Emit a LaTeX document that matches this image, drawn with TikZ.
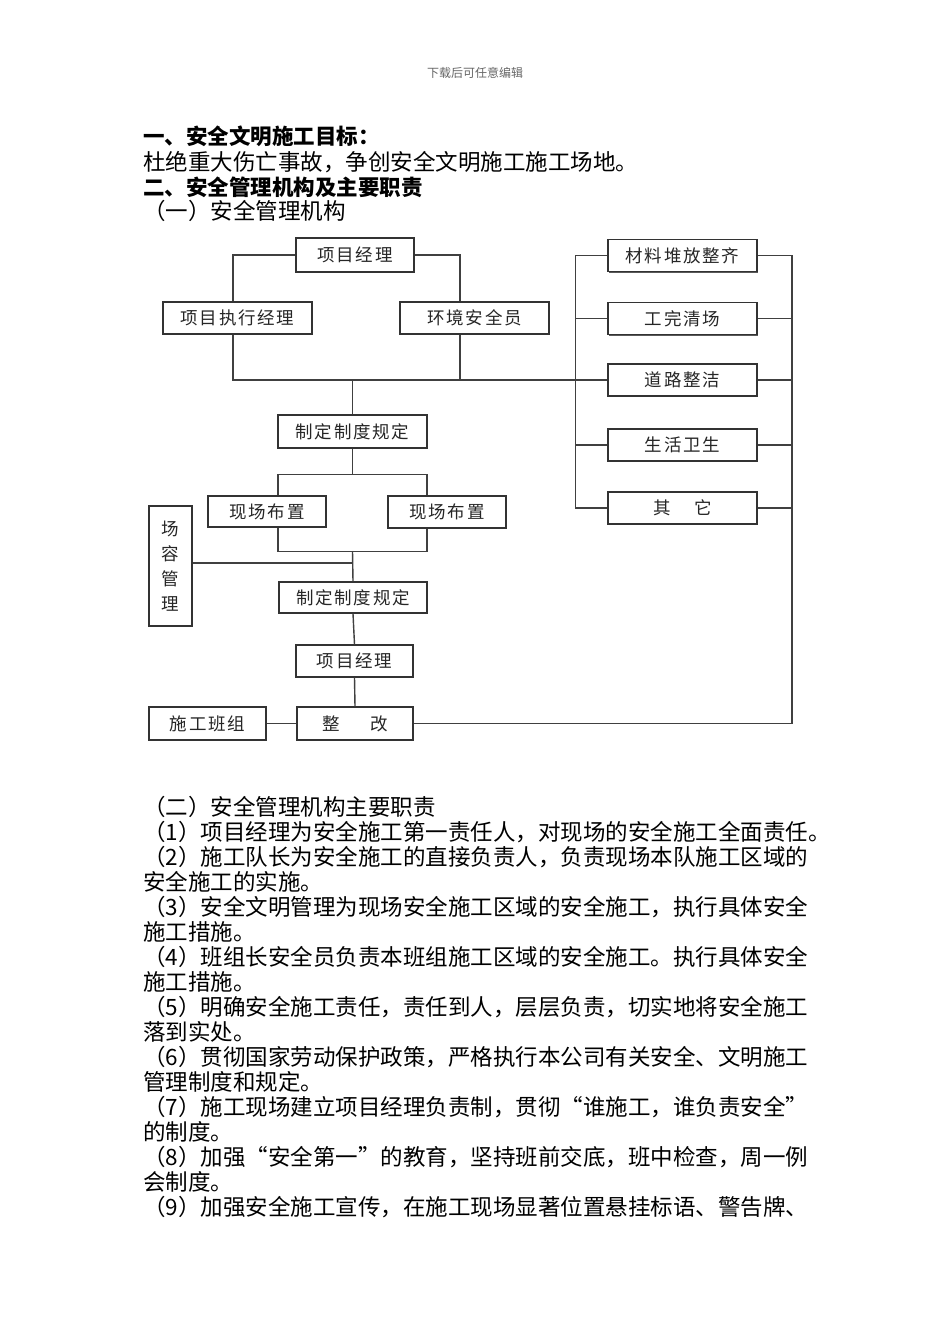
\documentclass[tikz,border=0pt]{standalone}
\usepackage{fontspec}
\setmainfont{Noto Sans CJK SC}
\newfontfamily\boxfont[LetterSpace=10]{Noto Sans CJK SC}
\usetikzlibrary{shadows}
\begin{document}
\begin{tikzpicture}[x=1pt,y=-1pt,
 body/.style={anchor=west,inner sep=0pt,font=\fontsize{22.5pt}{25pt}\selectfont},
 head/.style={anchor=west,inner sep=0pt,font=\fontsize{21.5pt}{25pt}\selectfont\bfseries},
 box/.style={draw=black!80,line width=1.2pt,fill=white,inner sep=0pt,
   font=\boxfont\fontsize{17.5pt}{25pt}\selectfont,text=black!85,
   drop shadow={shadow xshift=1.3pt,shadow yshift=-1.3pt,opacity=1,fill=black!65}},
 link/.style={draw=black!75,line width=1.4pt}]
\useasboundingbox (0,0) rectangle (950,1344);
\fill[white] (0,0) rectangle (950,1344);

% header
\node[font=\fontsize{12pt}{14pt}\selectfont,text=black!60] (hdr) at (475,73) {下载后可任意编辑};

% top text
\node[head] (t1) at (143,136) {一、安全文明施工目标：};
\node[body] (t2) at (143,162) {杜绝重大伤亡事故，争创安全文明施工施工场地。};
\node[head] (t3) at (143,187) {二、安全管理机构及主要职责};
\node[body] (t4) at (143,211) {（一）安全管理机构};

% boxes
\node[box,minimum width=118pt,minimum height=34pt] (pm1) at (355,255) {项目经理};
\node[box,minimum width=149pt,minimum height=32pt] (exec) at (237.5,318) {项目执行经理};
\node[box,minimum width=149pt,minimum height=32pt] (env) at (474.5,318) {环境安全员};

\node[box,minimum width=149pt,minimum height=32pt] (r1) at (682.5,255.5) {材料堆放整齐};
\node[box,minimum width=149pt,minimum height=32pt] (r2) at (682.5,318.5) {工完清场};
\node[box,minimum width=149pt,minimum height=32pt] (r3) at (682.5,380) {道路整洁};
\node[box,minimum width=149pt,minimum height=32pt] (r4) at (682.5,445) {生活卫生};
\node[box,minimum width=149pt,minimum height=32pt] (r5) at (682.5,508) {其\hspace{23pt}它};

\node[box,minimum width=149pt,minimum height=33pt] (rule1) at (352.5,431.5) {制定制度规定};
\node[box,minimum width=118pt,minimum height=31pt] (site1) at (267,511.5) {现场布置};
\node[box,minimum width=118pt,minimum height=32pt] (site2) at (447,512) {现场布置};
\node[box,minimum width=43pt,minimum height=120pt,align=center] (rong) at (170.5,566) {场\\容\\管\\理};
\node[box,minimum width=148pt,minimum height=31pt] (rule2) at (353,597.5) {制定制度规定};
\node[box,minimum width=117pt,minimum height=32pt] (pm2) at (354.5,661) {项目经理};
\node[box,minimum width=116pt,minimum height=33pt] (zg) at (355,723.5) {整\hspace{31pt}改};
\node[box,minimum width=117pt,minimum height=33pt] (team) at (207.5,723.5) {施工班组};

% connectors
\coordinate (j1) at (352.5,380);
\coordinate (j2) at (352.5,475);
\coordinate (j3) at (352.5,551);
\coordinate (rb) at (792,723.5);

\draw[link] (pm1.west) -| ([xshift=-4.5pt]exec.north);
\draw[link] (pm1.east) -| ([xshift=-14.5pt]env.north);
\draw[link] ([xshift=-4.5pt]exec.south) |- (r3.west);
\draw[link] ([xshift=-14.5pt]env.south) -- ([xshift=-14.5pt]env.south |- r3.west);
\draw[link] (j1) -- (rule1.north);
\draw[link] (rule1.south) -- (j2);
\draw[link] ([xshift=11pt]site1.north) -- ++(0,-21) -| ([xshift=-20pt]site2.north);
\draw[link] ([xshift=11pt]site1.south) -- ++(0,24) -| ([xshift=-20pt]site2.south);
\draw[link] (j3) -- (rule2.north);
\draw[link] ([yshift=3pt]rong.east) -- ([yshift=3pt]rong.east -| j3);
\draw[link] (rule2.south) -- (pm2.north);
\draw[link] (pm2.south) -- (zg.north);
\draw[link] (team.east) -- (zg.west);

\draw[link] (r1.west) -- ++(-32,0) |- (r5.west);
\draw[link] (r2.west) -- ++(-32,0);
\draw[link] (r4.west) -- ++(-32,0);
\draw[link] (zg.east) -- (rb) |- (r1.east);
\draw[link] (r2.east) -- (r2.east -| rb);
\draw[link] (r3.east) -- (r3.east -| rb);
\draw[link] (r4.east) -- (r4.east -| rb);
\draw[link] (r5.east) -- (r5.east -| rb);

% lower text
\node[body] (s0) at (143,807) {（二）安全管理机构主要职责};
\node[body] (s1) at (143,832) {（1）项目经理为安全施工第一责任人，对现场的安全施工全面责任。};
\node[body] (s2) at (143,857) {（2）施工队长为安全施工的直接负责人，负责现场本队施工区域的};
\node[body] (s2b) at (143,882) {安全施工的实施。};
\node[body] (s3) at (143,907) {（3）安全文明管理为现场安全施工区域的安全施工，执行具体安全};
\node[body] (s3b) at (143,932) {施工措施。};
\node[body] (s4) at (143,957) {（4）班组长安全员负责本班组施工区域的安全施工。执行具体安全};
\node[body] (s4b) at (143,982) {施工措施。};
\node[body] (s5) at (143,1007) {（5）明确安全施工责任，责任到人，层层负责，切实地将安全施工};
\node[body] (s5b) at (143,1032) {落到实处。};
\node[body] (s6) at (143,1057) {（6）贯彻国家劳动保护政策，严格执行本公司有关安全、文明施工};
\node[body] (s6b) at (143,1082) {管理制度和规定。};
\node[body] (s7) at (143,1107) {（7）施工现场建立项目经理负责制，贯彻“谁施工，谁负责安全”};
\node[body] (s7b) at (143,1132) {的制度。};
\node[body] (s8) at (143,1157) {（8）加强“安全第一”的教育，坚持班前交底，班中检查，周一例};
\node[body] (s8b) at (143,1182) {会制度。};
\node[body] (s9) at (143,1207) {（9）加强安全施工宣传，在施工现场显著位置悬挂标语、警告牌、};
\end{tikzpicture}
\end{document}
